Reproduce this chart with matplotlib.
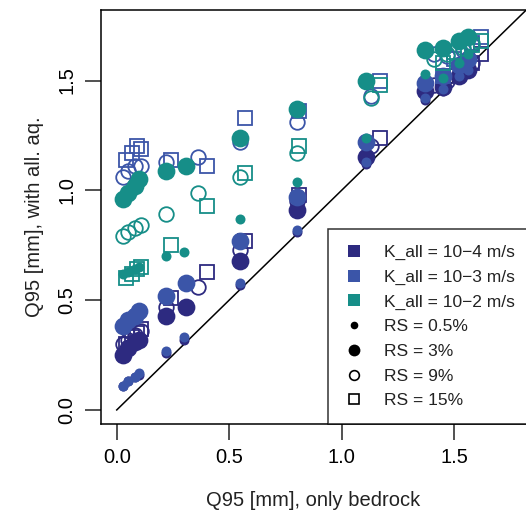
import matplotlib
matplotlib.use("Agg")
import matplotlib.pyplot as plt
from matplotlib.lines import Line2D

plt.rcParams["font.family"] = ["Liberation Sans", "DejaVu Sans"]

# Q95 only bedrock (x), one value per catchment; runs with larger RS shift slightly
x_rs05 = [0.03, 0.05, 0.08, 0.10, 0.22, 0.30, 0.55, 0.80, 1.11, 1.37, 1.45, 1.52, 1.56]
x_rs3 = [0.03, 0.05, 0.08, 0.10, 0.22, 0.31, 0.55, 0.80, 1.11, 1.37, 1.45, 1.52, 1.56]
x_rs9 = [0.03, 0.05, 0.08, 0.11, 0.22, 0.36, 0.55, 0.80, 1.13, 1.41, 1.47, 1.54, 1.58]
x_rs15 = [0.04, 0.07, 0.09, 0.11, 0.24, 0.40, 0.57, 0.81, 1.17, 1.45, 1.50, 1.58, 1.62]

# Q95 with alluvial aquifer (y), K_all = 1e-4 m/s
y_k4_rs05 = [0.11, 0.13, 0.15, 0.16, 0.26, 0.32, 0.57, 0.81, 1.12, 1.41, 1.45, 1.51, 1.54]
y_k4_rs3 = [0.25, 0.28, 0.31, 0.32, 0.43, 0.47, 0.68, 0.91, 1.15, 1.45, 1.47, 1.52, 1.55]
y_k4_rs9 = [0.30, 0.32, 0.34, 0.36, 0.47, 0.56, 0.73, 0.95, 1.20, 1.48, 1.50, 1.55, 1.58]
y_k4_rs15 = [0.30, 0.33, 0.35, 0.37, 0.51, 0.63, 0.77, 0.98, 1.24, 1.50, 1.52, 1.58, 1.62]

# K_all = 1e-3 m/s
y_k3_rs05 = [0.11, 0.13, 0.15, 0.17, 0.27, 0.33, 0.58, 0.82, 1.13, 1.42, 1.46, 1.52, 1.55]
y_k3_rs3 = [0.38, 0.41, 0.43, 0.45, 0.52, 0.58, 0.77, 0.97, 1.22, 1.49, 1.52, 1.57, 1.60]
y_k3_rs9 = [1.06, 1.09, 1.11, 1.11, 1.13, 1.15, 1.22, 1.31, 1.43, 1.62, 1.61, 1.64, 1.66]
y_k3_rs15 = [1.14, 1.17, 1.20, 1.19, 1.14, 1.11, 1.33, 1.36, 1.50, 1.52, 1.60, 1.67, 1.70]

# K_all = 1e-2 m/s
y_k2_rs05 = [0.62, 0.63, 0.64, 0.65, 0.70, 0.72, 0.87, 1.04, 1.24, 1.53, 1.51, 1.58, 1.62]
y_k2_rs3 = [0.96, 0.99, 1.02, 1.05, 1.09, 1.11, 1.24, 1.37, 1.50, 1.64, 1.65, 1.68, 1.70]
y_k2_rs9 = [0.79, 0.81, 0.83, 0.84, 0.89, 0.99, 1.06, 1.17, 1.42, 1.60, 1.62, 1.65, 1.67]
y_k2_rs15 = [0.60, 0.62, 0.64, 0.65, 0.75, 0.93, 1.08, 1.20, 1.48, 1.58, 1.63, 1.66, 1.68]

k_labels = ["K_all = 10\u22124 m/s", "K_all = 10\u22123 m/s", "K_all = 10\u22122 m/s"]
rs_labels = ["RS = 0.5%", "RS = 3%", "RS = 9%", "RS = 15%"]
k_colors = ["#2D2A80", "#3B55A8", "#168E88"]

fig = plt.figure(figsize=(5.26, 5.13), dpi=100)
ax = fig.add_axes([101 / 526, 89 / 513, 425 / 526, 414 / 513])

ax.plot([0, 2], [0, 2], color="black", lw=1.1, zorder=1)

series = [
    (y_k4_rs05, y_k4_rs3, y_k4_rs9, y_k4_rs15),
    (y_k3_rs05, y_k3_rs3, y_k3_rs9, y_k3_rs15),
    (y_k2_rs05, y_k2_rs3, y_k2_rs9, y_k2_rs15),
]
xs = [x_rs05, x_rs3, x_rs9, x_rs15]

for col, ys in zip(k_colors, series):
    ax.plot(xs[0], ys[0], ls="none", marker="o", ms=7.2, mfc=col, mec=col, mew=0, zorder=2)
    ax.plot(xs[1], ys[1], ls="none", marker="o", ms=12.8, mfc=col, mec=col, mew=0, zorder=2)
    ax.plot(xs[2], ys[2], ls="none", marker="o", ms=10.5, mfc="none", mec=col, mew=1.3, zorder=2)
    ax.plot(xs[3], ys[3], ls="none", marker="s", ms=10.0, mfc="none", mec=col, mew=1.3, zorder=2)

ax.set_xlim(-0.07, 1.82)
ax.set_ylim(-0.064, 1.821)
ticks = [0.0, 0.5, 1.0, 1.5]
ax.set_xticks(ticks, ["0.0", "0.5", "1.0", "1.5"])
ax.set_yticks(ticks, ["0.0", "0.5", "1.0", "1.5"])
plt.setp(ax.get_yticklabels(), rotation=90, va="center")
ax.tick_params(direction="out", length=11.5, width=1.1, labelsize=14.5, pad=6, color="#222222")
for side in ["left", "bottom", "top"]:
    ax.spines[side].set_linewidth(1.1)
ax.spines["right"].set_visible(False)

ax.set_xlabel("Q95 [mm], only bedrock", fontsize=14.5, labelpad=17, color="#222222")
ax.set_ylabel("Q95 [mm], with all. aq.", fontsize=14.5, labelpad=10, color="#222222")

handles = [Line2D([], [], ls="none", marker="s", ms=8.5, mfc=c, mec=c, mew=0) for c in k_colors]
handles += [
    Line2D([], [], ls="none", marker="o", ms=5.5, mfc="black", mec="black", mew=0),
    Line2D([], [], ls="none", marker="o", ms=8.5, mfc="black", mec="black", mew=0),
    Line2D([], [], ls="none", marker="o", ms=7, mfc="none", mec="black", mew=1.2),
    Line2D([], [], ls="none", marker="s", ms=7, mfc="none", mec="black", mew=1.2),
]
leg = ax.legend(handles, k_labels + rs_labels, loc="lower left",
                bbox_to_anchor=(0.534, 0.0, 0.6, 0.476), mode="expand",
                borderaxespad=0, fontsize=12.5, frameon=True, fancybox=False,
                edgecolor="black", handlelength=1.2, handletextpad=1.1,
                labelspacing=0.55, borderpad=0.9)
leg.get_frame().set_linewidth(1.1)
for t in leg.get_texts():
    t.set_color("#222222")

fig.savefig("out.png", dpi=100)
